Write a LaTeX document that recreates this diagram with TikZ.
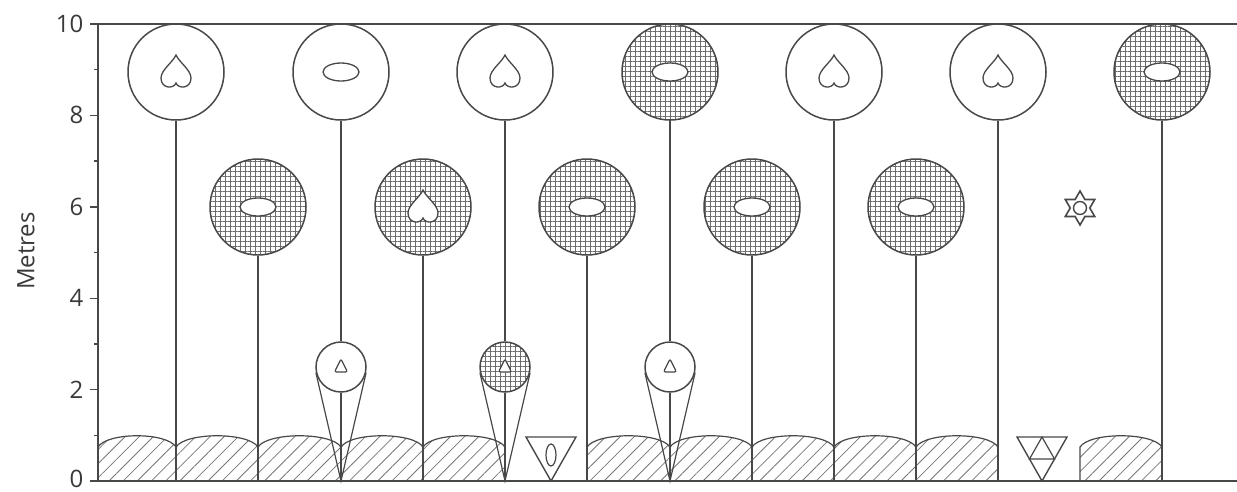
\documentclass[tikz,border=0pt]{standalone}
\usepackage{fontspec}
\setmainfont{Open Sans}
\usetikzlibrary{patterns.meta,calc}
\definecolor{ln}{RGB}{72,72,72}
\begin{document}
\begin{tikzpicture}[x=1pt,y=-1pt,line width=1.4pt,
  bigc/.style={circle,draw=ln,line width=1.5pt,minimum size=96pt,inner sep=0pt,fill=white},
  bigh/.style={circle,draw=ln,line width=1.5pt,minimum size=96pt,inner sep=0pt,
    preaction={fill=white},pattern={Hatch[distance=5pt,angle=0,line width=0.8pt]},pattern color=ln!80},
  smc/.style={circle,draw=ln,line width=1.5pt,minimum size=50pt,inner sep=0pt,fill=white},
  smh/.style={circle,draw=ln,line width=1.5pt,minimum size=50pt,inner sep=0pt,
    preaction={fill=white},pattern={Hatch[distance=5pt,angle=0,line width=0.8pt]},pattern color=ln!80},
  bumpfill/.style={pattern={Lines[angle=45,distance=10pt,line width=0.8pt]},pattern color=ln!75},
  lbl/.style={anchor=east,inner sep=0pt,font=\fontsize{24}{24}\selectfont,text=ln!80!black},
  heart/.pic={\draw[ln,line width=1.3pt,fill=white] (0,-17) .. controls (-3,-10) and (-15,-2) .. (-15,6)
      .. controls (-15,17) and (-2,17) .. (0,11) .. controls (2,17) and (15,17) .. (15,6)
      .. controls (15,-2) and (3,-10) .. (0,-17) -- cycle;},
  oval/.pic={\draw[ln,line width=1.3pt,fill=white] (0,0) ellipse [x radius=18,y radius=9];},
  tri/.pic={\draw[ln,line width=1.2pt,fill=white,rounded corners=2pt] (0,-8) -- (-6.5,5) -- (6.5,5) -- cycle;},
  hexstar/.pic={\draw[ln,line width=1.6pt,fill=white]
      (90:17) -- (120:9.8) -- (150:17) -- (180:9.8) -- (210:17) -- (240:9.8) -- (270:17)
      -- (300:9.8) -- (330:17) -- (0:9.8) -- (30:17) -- (60:9.8) -- cycle;
    \draw[ln,line width=1.4pt] (0,0) circle [radius=6.5];}
]
\useasboundingbox (0,0) rectangle (1237,491);

% ground cover bumps
\foreach \a/\b in {98/176,176/258,258/341,341/423,423/505,587/670,670/752,752/834,834/916,916/998,1080/1162}{
  \fill[bumpfill] (\a,481) -- (\a,447) .. controls ({\a+0.12*(\b-\a)},432) and ({\b-0.12*(\b-\a)},432) .. (\b,447) -- (\b,481) -- cycle;
  \draw[ln,line width=1.2pt] (\a,481) -- (\a,447) .. controls ({\a+0.12*(\b-\a)},432) and ({\b-0.12*(\b-\a)},432) .. (\b,447) -- (\b,481);
}

% axis
\draw[ln] (98,24) -- (98,481);
\draw[ln] (98,24) -- (1237,24);
\draw[ln,line width=1.6pt] (98,481) -- (1237,481);
\foreach \m in {2,4,6,8,10}{
  \draw[ln] (90,{481-45.7*\m}) -- (98,{481-45.7*\m});
  \node[lbl] (lab\m) at (84,{481-45.7*\m}) {\m};
}
\draw[ln] (90,481) -- (98,481);
\node[lbl] (lab0) at (84,479) {0};
\foreach \m in {1,3,5,7,9}{
  \draw[ln] (94,{481-45.7*\m}) -- (98,{481-45.7*\m});
}
\node[rotate=90,inner sep=0pt,font=\fontsize{24}{24}\selectfont,text=ln!80!black] (ylab) at (26,251) {Metres};

% ground coordinates
\foreach \i/\x in {1/176,2/258,3/341,4/423,5/505,6/587,7/670,8/752,9/834,10/916,11/998,13/1162}{
  \coordinate (g\i) at (\x,481);
}

% circles
\node[bigc] (t1) at (176,72) {};
\node[bigc] (t2) at (341,72) {};
\node[bigc] (t3) at (505,72) {};
\node[bigh] (t4) at (670,72) {};
\node[bigc] (t5) at (834,72) {};
\node[bigc] (t6) at (998,72) {};
\node[bigh] (t7) at (1162,72) {};
\node[bigh] (m1) at (258,207) {};
\node[bigh] (m2) at (423,207) {};
\node[bigh] (m3) at (587,207) {};
\node[bigh] (m4) at (752,207) {};
\node[bigh] (m5) at (916,207) {};
\node[smc] (s1) at (341,367) {};
\node[smh] (s2) at (505,367) {};
\node[smc] (s3) at (670,367) {};

% stems
\draw[ln] (t1.south) -- (g1);
\draw[ln] (m1.south) -- (g2);
\draw[ln] (t2.south) -- (s1.north);
\draw[ln] (s1.south) -- (g3);
\draw[ln] (m2.south) -- (g4);
\draw[ln] (t3.south) -- (s2.north);
\draw[ln] (s2.south) -- (g5);
\draw[ln] (m3.south) -- (g6);
\draw[ln] (t4.south) -- (s3.north);
\draw[ln] (s3.south) -- (g7);
\draw[ln] (m4.south) -- (g8);
\draw[ln] (t5.south) -- (g9);
\draw[ln] (m5.south) -- (g10);
\draw[ln] (t6.south) -- (g11);
\draw[ln] (t7.south) -- (g13);

% cones
\foreach \s/\g in {s1/g3,s2/g5,s3/g7}{
  \draw[ln,line width=1.2pt] (tangent cs:node=\s,point={(\g)},solution=1) -- (\g)
     -- (tangent cs:node=\s,point={(\g)},solution=2);
}

% inner symbols
\pic at (176,72) {heart};
\pic at (341,72) {oval};
\pic at (505,72) {heart};
\pic at (670,72) {oval};
\pic at (834,72) {heart};
\pic at (998,72) {heart};
\pic at (1162,72) {oval};
\pic at (258,207) {oval};
\pic at (423,207) {heart};
\pic at (587,207) {oval};
\pic at (752,207) {oval};
\pic at (916,207) {oval};
\pic at (1080,208) {hexstar};
\pic at (341,367) {tri};
\pic at (505,367) {tri};
\pic at (670,367) {tri};

% inverted triangles on the ground
\draw[ln,line width=1.4pt,fill=white] (526,437) -- (576,437) -- (551,481) -- cycle;
\draw[ln,line width=1.2pt,fill=white] (551,455) ellipse [x radius=5,y radius=11];
\draw[ln,line width=1.4pt,fill=white] (1017,437) -- (1067,437) -- (1042,481) -- cycle;
\draw[ln,line width=1.2pt] (1042,437) -- (1029.5,459) -- (1054.5,459) -- cycle;
\end{tikzpicture}
\end{document}
